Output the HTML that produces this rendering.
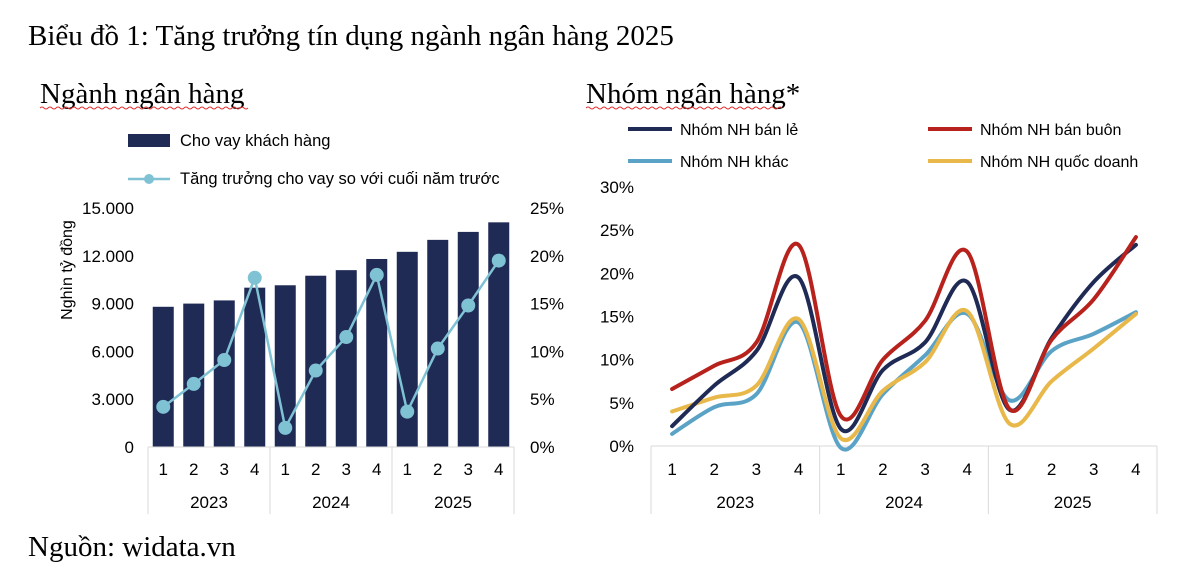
<!DOCTYPE html>
<html><head><meta charset="utf-8">
<style>
body{margin:0;background:#fff;width:1200px;height:582px;overflow:hidden;font-family:"Liberation Sans",sans-serif;}
svg text{font-family:"Liberation Sans","DejaVu Sans",sans-serif;}
.serif{font-family:"Liberation Serif",serif !important;}
</style></head>
<body>
<svg id="svg" width="1200" height="582" xmlns="http://www.w3.org/2000/svg">
<text class="serif" x="28" y="45" font-size="29" fill="#000">Biểu đồ 1: Tăng trưởng tín dụng ngành ngân hàng 2025</text>
<text class="serif" x="40" y="103" font-size="29" fill="#000">Ngành ngân hàng</text>
<path d="M40 108 q2 -2 4 0 t4 0 t4 0 t4 0 t4 0 t4 0 t4 0 t4 0 t4 0 t4 0 t4 0 t4 0 t4 0 t4 0 t4 0 t4 0 t4 0 t4 0 t4 0 t4 0 t4 0 t4 0 t4 0 t4 0 t4 0 t4 0 t4 0 t4 0 t4 0 t4 0 t4 0 t4 0 t4 0 t4 0 t4 0 t4 0 t4 0 t4 0 t4 0 t4 0 t4 0 t4 0 t4 0 t4 0 t4 0 t4 0 t4 0 t4 0 t4 0 t4 0 t4 0 t4 0" stroke="#d33" fill="none" stroke-width="1"/>
<text class="serif" x="586" y="103" font-size="29" fill="#000">Nhóm ngân hàng*</text>
<path d="M586 108 q2 -2 4 0 t4 0 t4 0 t4 0 t4 0 t4 0 t4 0 t4 0 t4 0 t4 0 t4 0 t4 0 t4 0 t4 0 t4 0 t4 0 t4 0 t4 0 t4 0 t4 0 t4 0 t4 0 t4 0 t4 0 t4 0 t4 0 t4 0 t4 0 t4 0 t4 0 t4 0 t4 0 t4 0 t4 0 t4 0 t4 0 t4 0 t4 0 t4 0 t4 0 t4 0 t4 0 t4 0 t4 0 t4 0 t4 0 t4 0 t4 0 t4 0" stroke="#d33" fill="none" stroke-width="1"/>
<text class="serif" x="28" y="556" font-size="29" fill="#000">Nguồn: widata.vn</text>

<!-- left legend -->
<rect x="128" y="134" width="42" height="13" fill="#1f2a55"/>
<text x="180" y="146" font-size="16.5" fill="#000">Cho vay khách hàng</text>
<line x1="128" y1="179" x2="170" y2="179" stroke="#7fc2d4" stroke-width="2.5"/>
<circle cx="149" cy="179" r="5" fill="#7fc2d4"/>
<text x="180" y="184" font-size="16.5" fill="#000">Tăng trưởng cho vay so với cuối năm trước</text>

<!-- right legend -->
<line x1="628" y1="129" x2="672" y2="129" stroke="#1f2a55" stroke-width="4"/>
<text x="680" y="135" font-size="16">Nhóm NH bán lẻ</text>
<line x1="928" y1="129" x2="972" y2="129" stroke="#b8221c" stroke-width="4"/>
<text x="980" y="135" font-size="16">Nhóm NH bán buôn</text>
<line x1="628" y1="161" x2="672" y2="161" stroke="#5aa3c6" stroke-width="4"/>
<text x="680" y="167" font-size="16">Nhóm NH khác</text>
<line x1="928" y1="161" x2="972" y2="161" stroke="#e8b84a" stroke-width="4"/>
<text x="980" y="167" font-size="16">Nhóm NH quốc doanh</text>

<text transform="translate(72,270) rotate(-90)" text-anchor="middle" font-size="16">Nghìn tỷ đồng</text>
<g id="left"></g>
<g id="right"></g>
</svg>
<script>
const quarters=["1","2","3","4","1","2","3","4","1","2","3","4"];
const years=["2023","2024","2025"];
const loans=[8800,9000,9200,10000,10150,10750,11100,11800,12250,13000,13500,14100];
const growth=[4.2,6.6,9.1,17.7,2.0,8.0,11.5,18.0,3.7,10.3,14.8,19.5];
const leftTicks=[0,3000,6000,9000,12000,15000];
const leftTickLabels=["0","3.000","6.000","9.000","12.000","15.000"];
const rightTicks=[0,5,10,15,20,25];
const retail=[2.3,7.0,11.0,19.5,2.0,8.8,12.0,19.0,4.2,12.5,19.0,23.3];
const wholesale=[6.6,9.3,12.0,23.3,3.5,10.0,14.5,22.5,4.3,12.3,17.0,24.2];
const other=[1.4,4.5,6.0,14.3,-0.2,6.0,10.5,15.3,5.3,11.0,13.0,15.5];
const stateOwned=[4.0,5.6,7.0,14.7,0.9,6.4,9.7,15.6,2.6,7.5,11.3,15.3];
const groupTicks=[0,5,10,15,20,25,30];

const NS="http://www.w3.org/2000/svg";
function mk(tag,attrs,parent){const e=document.createElementNS(NS,tag);for(const k in attrs)e.setAttribute(k,attrs[k]);parent.appendChild(e);return e;}

// Left chart
const L=document.getElementById('left');
const lx0=148,lx1=514,ly0=447,ly1=208;
const lslot=(lx1-lx0)/quarters.length;
const lxc=i=>lx0+lslot*(i+0.5);
const ly=v=>ly0-(v/15000)*(ly0-ly1);
const ly2=v=>ly0-(v/25)*(ly0-ly1);
leftTicks.forEach((t,i)=>{const e=mk('text',{x:134,y:ly(t)+6,'text-anchor':'end','font-size':17},L);e.textContent=leftTickLabels[i];

});
rightTicks.forEach(t=>{const e=mk('text',{x:530,y:ly2(t)+6,'font-size':17},L);e.textContent=t+'%';

});
loans.forEach((v,i)=>{const r=mk('rect',{x:lxc(i)-10.5,y:ly(v),width:21,height:ly0-ly(v),fill:'#1f2a55'},L);

});
const la=mk('line',{x1:lx0,y1:ly0,x2:lx1,y2:ly0,stroke:'#d9d9d9','stroke-width':1},L);


for(let k=0;k<=3;k++){const x=lx0+lslot*4*k;const s=mk('line',{x1:x,y1:ly0,x2:x,y2:514,stroke:'#d9d9d9'},L);

}
quarters.forEach((q,i)=>{const e=mk('text',{x:lxc(i),y:475,'text-anchor':'middle','font-size':17},L);e.textContent=q;

});
years.forEach((y,k)=>{const e=mk('text',{x:lx0+lslot*(4*k+2),y:508,'text-anchor':'middle','font-size':17},L);e.textContent=y;

});
const gl=mk('polyline',{points:growth.map((v,i)=>lxc(i)+','+ly2(v)).join(' '),fill:'none',stroke:'#7fc2d4','stroke-width':2.5},L);


growth.forEach((v,i)=>{const c=mk('circle',{cx:lxc(i),cy:ly2(v),r:7,fill:'#7fc2d4'},L);

});

// Right chart
const R=document.getElementById('right');
const rx0=651,rx1=1157,ry0=446,ry1=187;
const rslot=(rx1-rx0)/quarters.length;
const rxc=i=>rx0+rslot*(i+0.5);
const ry=v=>ry0-(v/30)*(ry0-ry1);
groupTicks.forEach(t=>{const e=mk('text',{x:634,y:ry(t)+6,'text-anchor':'end','font-size':17},R);e.textContent=t+'%';

});
const ra=mk('line',{x1:rx0,y1:ry0,x2:rx1,y2:ry0,stroke:'#d9d9d9'},R);


for(let k=0;k<=3;k++){const x=rx0+rslot*4*k;const s=mk('line',{x1:x,y1:ry0,x2:x,y2:514,stroke:'#d9d9d9'},R);

}
quarters.forEach((q,i)=>{const e=mk('text',{x:rxc(i),y:475,'text-anchor':'middle','font-size':17},R);e.textContent=q;

});
years.forEach((y,k)=>{const e=mk('text',{x:rx0+rslot*(4*k+2),y:508,'text-anchor':'middle','font-size':17},R);e.textContent=y;

});
function smooth(vals){const p=vals.map((v,i)=>[rxc(i),ry(v)]);let d='M'+p[0][0]+' '+p[0][1];
for(let i=0;i<p.length-1;i++){const p0=p[i-1]||p[i],p1=p[i],p2=p[i+1],p3=p[i+2]||p2;
const c1=[p1[0]+(p2[0]-p0[0])/6,p1[1]+(p2[1]-p0[1])/6],c2=[p2[0]-(p3[0]-p1[0])/6,p2[1]-(p3[1]-p1[1])/6];
d+=` C${c1[0]} ${c1[1]} ${c2[0]} ${c2[1]} ${p2[0]} ${p2[1]}`;}return d;}
[[other,'#5aa3c6','line-other'],[stateOwned,'#e8b84a','line-state'],[retail,'#1f2a55','line-retail'],[wholesale,'#b8221c','line-wholesale']].forEach(s=>{
const p=mk('path',{d:smooth(s[0]),fill:'none',stroke:s[1],'stroke-width':4,'stroke-linecap':'round'},R);

});
</script>
</body></html>
